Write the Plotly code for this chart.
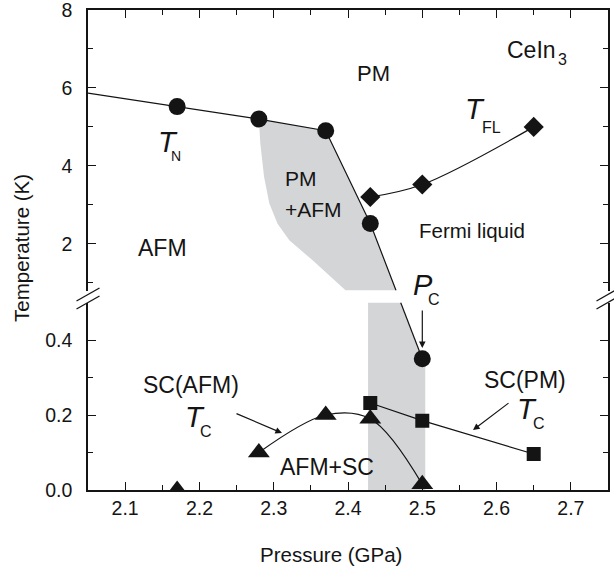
import plotly.graph_objects as go

# ---- measured phase-diagram data (pressure in GPa, temperature in K) ----
# Neel temperature T_N (upper panel)
TN_P = [2.17, 2.28, 2.37, 2.43]
TN_T = [5.52, 5.20, 4.90, 2.52]

# critical point P_C (lower panel)
PC_P = [2.50]
PC_T = [0.35]

# Fermi-liquid temperature T_FL
TFL_P = [2.43, 2.50, 2.65]
TFL_T = [3.20, 3.52, 5.00]

# superconducting T_C inside the AFM phase
TCA_P = [2.17, 2.28, 2.37, 2.43, 2.50]
TCA_T = [0.000, 0.100, 0.200, 0.190, 0.015]

# superconducting T_C inside the PM phase
TCP_P = [2.43, 2.50, 2.65]
TCP_T = [0.232, 0.185, 0.096]

# left boundary of the PM+AFM coexistence region
COEX_P = [2.28, 2.282, 2.287, 2.294, 2.305, 2.321, 2.352, 2.397]
COEX_T = [5.20, 4.57, 3.72, 3.04, 2.52, 2.09, 1.58, 0.80]

# pressure band of the shaded strip at low temperature
STRIP_P = [2.427, 2.504]

X_TICKS = [2.1, 2.2, 2.3, 2.4, 2.5, 2.6, 2.7]
UP_TICKS = [2, 4, 6, 8]
LOW_TICKS = [0.0, 0.2, 0.4]
LOW_TICK_TEXT = ["0.0", "0.2", "0.4"]

# ---- broken-axis geometry ----
X_RNG = (2.05, 2.75)
LOW_DOM, LOW_RNG = (0.0, 0.3906), (0.0, 0.5)
UP_DOM, UP_RNG = (0.4156, 1.0), (0.8, 8.0)

W, H = 614, 572
ML, MR, MT, MB = 88, 6, 10, 82
PW, PH = W - ML - MR, H - MT - MB

FONT = "Liberation Sans, Arial, Helvetica, sans-serif"
INK = "#141414"
SHADE = "#d4d5d7"


def paper_y(t, upper):
    dom, rng = (UP_DOM, UP_RNG) if upper else (LOW_DOM, LOW_RNG)
    return dom[0] + (t - rng[0]) / (rng[1] - rng[0]) * (dom[1] - dom[0])


def cross_p(p0, y0, p1, y1, y):
    return p0 + (p1 - p0) * (y - y0) / (y1 - y0)


def at(px, py):
    """pixel position in the page -> paper coordinates"""
    return (px - ML) / PW, (MT + PH - py) / PH


# the T_N line continues straight across the axis break down to P_C
ya = paper_y(TN_T[-1], True)
yb = paper_y(PC_T[0], False)
p_up = cross_p(TN_P[-1], ya, PC_P[0], yb, UP_DOM[0])
p_low = cross_p(TN_P[-1], ya, PC_P[0], yb, LOW_DOM[1])

# straight extension of the first T_N segment to the left edge
slope = (TN_T[1] - TN_T[0]) / (TN_P[1] - TN_P[0])
t_left = TN_T[0] + slope * (X_RNG[0] - TN_P[0])

fig = go.Figure()

# shaded PM+AFM coexistence region (upper panel)
up_px = [TN_P[1], TN_P[2], TN_P[3], p_up] + COEX_P[::-1]
up_ty = [TN_T[1], TN_T[2], TN_T[3], UP_RNG[0]] + COEX_T[::-1]
fig.add_trace(go.Scatter(x=up_px, y=up_ty, xaxis="x2", yaxis="y2", mode="lines",
                         fill="toself", fillcolor=SHADE, line=dict(width=0),
                         hoverinfo="skip", showlegend=False))

# shaded strip (lower panel)
lo_px = [STRIP_P[0], STRIP_P[0], p_low, PC_P[0], STRIP_P[1], STRIP_P[1]]
lo_ty = [LOW_RNG[0], LOW_RNG[1], LOW_RNG[1], PC_T[0], PC_T[0], LOW_RNG[0]]
fig.add_trace(go.Scatter(x=lo_px, y=lo_ty, xaxis="x", yaxis="y", mode="lines",
                         fill="toself", fillcolor=SHADE, line=dict(width=0),
                         hoverinfo="skip", showlegend=False))

LINE = dict(color=INK, width=1.2)

# T_N line (upper part, to the break)
fig.add_trace(go.Scatter(x=[X_RNG[0]] + TN_P + [p_up], y=[t_left] + TN_T + [UP_RNG[0]],
                         xaxis="x2", yaxis="y2", mode="lines", line=LINE, showlegend=False))
# T_N line (lower part, from the break to P_C)
fig.add_trace(go.Scatter(x=[p_low] + PC_P, y=[LOW_RNG[1]] + PC_T,
                         xaxis="x", yaxis="y", mode="lines", line=LINE, showlegend=False))
# T_FL
fig.add_trace(go.Scatter(x=TFL_P, y=TFL_T, xaxis="x2", yaxis="y2", mode="lines",
                         line=dict(color=INK, width=1.2, shape="spline", smoothing=1.0),
                         showlegend=False))
# T_C (AFM) smooth curve
fig.add_trace(go.Scatter(x=TCA_P[1:], y=TCA_T[1:], xaxis="x", yaxis="y", mode="lines",
                         line=dict(color=INK, width=1.2, shape="spline", smoothing=1.0),
                         showlegend=False))
# T_C (PM)
fig.add_trace(go.Scatter(x=TCP_P, y=TCP_T, xaxis="x", yaxis="y", mode="lines",
                         line=LINE, showlegend=False))

# markers
fig.add_trace(go.Scatter(x=TN_P, y=TN_T, xaxis="x2", yaxis="y2", mode="markers",
                         marker=dict(symbol="circle", size=17, color=INK), showlegend=False))
fig.add_trace(go.Scatter(x=PC_P, y=PC_T, xaxis="x", yaxis="y", mode="markers",
                         marker=dict(symbol="circle", size=17, color=INK), showlegend=False))
fig.add_trace(go.Scatter(x=TFL_P, y=TFL_T, xaxis="x2", yaxis="y2", mode="markers",
                         marker=dict(symbol="diamond", size=15.5, color=INK), showlegend=False))
fig.add_trace(go.Scatter(x=TCA_P, y=TCA_T, xaxis="x", yaxis="y", mode="markers",
                         marker=dict(symbol="triangle-up", size=19, color=INK), showlegend=False))
fig.add_trace(go.Scatter(x=TCP_P, y=TCP_T, xaxis="x", yaxis="y", mode="markers",
                         marker=dict(symbol="square", size=14, color=INK), showlegend=False))

TICKFONT = dict(family=FONT, size=19.5, color=INK)
AX = dict(showline=True, linecolor=INK, linewidth=1.5, ticks="inside", tickcolor=INK,
          tickwidth=1.3, showgrid=False, zeroline=False, tickfont=TICKFONT,
          ticklabeloverflow="allow", automargin=False)
X_MINOR = [v + 0.05 for v in [2.0] + X_TICKS]

fig.update_layout(
    width=W, height=H,
    margin=dict(l=ML, r=MR, t=MT, b=MB, autoexpand=False),
    paper_bgcolor="white", plot_bgcolor="white",
    showlegend=False,
    xaxis=dict(AX, range=list(X_RNG), anchor="y", tickvals=X_TICKS, ticklen=8,
               ticklabelstandoff=0,
               minor=dict(tickvals=X_MINOR, ticks="inside", ticklen=5,
                          tickcolor=INK, tickwidth=1.3)),
    xaxis2=dict(AX, range=list(X_RNG), anchor="y2", side="top", matches="x",
                tickvals=X_TICKS, ticklen=8, showticklabels=False,
                minor=dict(tickvals=X_MINOR, ticks="inside", ticklen=5,
                           tickcolor=INK, tickwidth=1.3)),
    yaxis=dict(AX, domain=list(LOW_DOM), range=list(LOW_RNG), anchor="x", mirror="ticks",
               tickvals=LOW_TICKS, ticktext=LOW_TICK_TEXT, ticklen=8, ticklabelstandoff=10,
               minor=dict(tickvals=[0.1, 0.3], ticks="inside", ticklen=5,
                          tickcolor=INK, tickwidth=1.3)),
    yaxis2=dict(AX, domain=list(UP_DOM), range=list(UP_RNG), anchor="x2", mirror="ticks",
                tickvals=UP_TICKS, ticklen=8, ticklabelstandoff=10,
                minor=dict(tickvals=[1, 3, 5, 7], ticks="inside", ticklen=5,
                           tickcolor=INK, tickwidth=1.3)),
)

# axis-break slashes on both vertical axes
for ax_px in (ML, ML + PW):
    for cy in (294.5, 302.5):
        x0, y0 = at(ax_px - 11.5, cy + 6.5)
        x1, y1 = at(ax_px + 11.5, cy - 6.5)
        fig.add_shape(type="line", xref="paper", yref="paper", x0=x0, y0=y0, x1=x1, y1=y1,
                      line=dict(color=INK, width=1.3))


def label(text, px, py, size, xanchor="center", angle=0):
    x, y = at(px, py)
    fig.add_annotation(text=text, x=x, y=y, xref="paper", yref="paper", showarrow=False,
                       xanchor=xanchor, yanchor="middle", textangle=angle,
                       font=dict(family=FONT, size=size, color=INK))


def arrow(tail, head):
    hx, hy = at(*head)
    fig.add_annotation(text="", x=hx, y=hy, xref="paper", yref="paper", showarrow=True,
                       ax=tail[0] - head[0], ay=tail[1] - head[1], axref="pixel", ayref="pixel",
                       arrowhead=2, arrowsize=1.1, arrowwidth=1.2, arrowcolor=INK, standoff=0)


# region and curve labels
label("CeIn", 505, 50, 23, xanchor="left")
label("3", 556, 60, 16, xanchor="left")
label("PM", 373, 74, 22)
label("<i>T</i>", 475, 109, 29)
label("FL", 491, 127, 16)
label("<i>T</i>", 168, 142, 29)
label("N", 176, 156, 14)
label("PM", 283, 178, 21, xanchor="left")
label("+AFM", 283, 209, 21, xanchor="left")
label("AFM", 162, 248, 23)
label("Fermi liquid", 472, 230, 20.5)
label("<i>P</i>", 423, 285, 29)
label("C", 434, 299, 16)
label("SC(AFM)", 191, 385, 23)
label("<i>T</i>", 195, 417, 29)
label("C", 206, 431, 16)
label("AFM+SC", 327, 467, 23)
label("SC(PM)", 525, 380, 23)
label("<i>T</i>", 527, 409, 29)
label("C", 539, 423, 16)

arrow((235, 413), (282, 433))
arrow((510, 402), (473, 430))
arrow((422.3, 309), (422.3, 348))

# axis titles
label("Pressure (GPa)", 331, 554, 20.5)
label("Temperature (K)", 21, 248, 20.5, angle=-90)

fig.write_html("out.html")
